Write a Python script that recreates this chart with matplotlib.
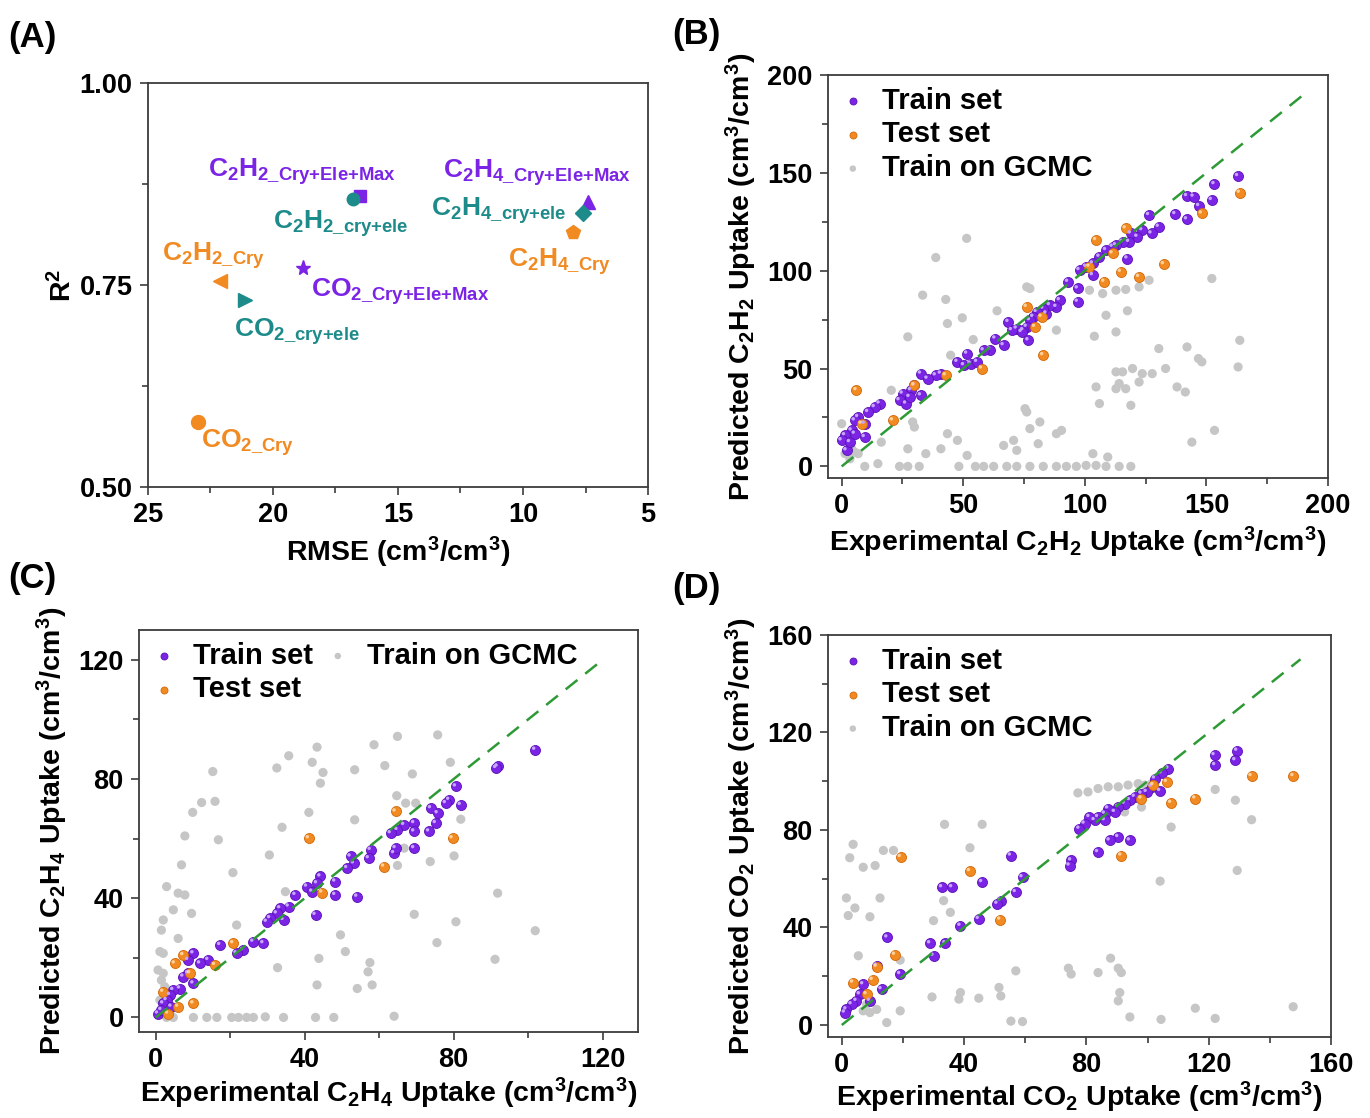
import matplotlib
matplotlib.use("Agg")
import matplotlib.pyplot as plt
from matplotlib.ticker import MultipleLocator
from matplotlib.transforms import ScaledTranslation

plt.rcParams["font.family"] = ["Liberation Sans", "DejaVu Sans"]
plt.rcParams["font.weight"] = "bold"
plt.rcParams["mathtext.fontset"] = "custom"
plt.rcParams["mathtext.rm"] = "Liberation Sans:bold"
plt.rcParams["mathtext.bf"] = "Liberation Sans:bold"
plt.rcParams["mathtext.it"] = "Liberation Sans:bold:italic"
plt.rcParams["mathtext.default"] = "bf"

# ---------------- (A) model comparison: RMSE vs R^2 ----------------
a_names = [r"C$_2$H$_{2\_Cry{+}Ele{+}Max}$", r"C$_2$H$_{2\_cry{+}ele}$",
           r"C$_2$H$_{4\_Cry{+}Ele{+}Max}$", r"C$_2$H$_{4\_cry{+}ele}$",
           r"C$_2$H$_{4\_Cry}$", r"C$_2$H$_{2\_Cry}$",
           r"CO$_{2\_cry{+}ele}$", r"CO$_{2\_Cry{+}Ele{+}Max}$", r"CO$_{2\_Cry}$"]
a_rmse = [16.5, 16.8, 7.4, 7.6, 8.0, 22.1, 21.1, 18.8, 23.0]
a_r2 = [0.860, 0.857, 0.853, 0.839, 0.815, 0.755, 0.731, 0.771, 0.581]

# ---------------- (B) C2H2 uptake ----------------
b_train_exp = [163.0, 153.3, 152.2, 147.0, 142.0, 144.7, 137.2, 142.0, 126.4, 130.4,
               127.4, 123.6, 121.6, 118.9, 118.2, 115.5, 112.8, 111.4, 108.7, 117.5,
               106.0, 103.3, 100.5, 97.8, 103.3, 97.1, 93.1, 97.1, 89.7, 88.3,
               85.6, 84.2, 82.9, 80.2, 78.8, 77.4, 76.1, 74.7, 72.0, 70.0,
               68.6, 74.0, 76.8, 66.6, 63.2, 61.1, 58.4, 51.6, 47.6, 50.3,
               53.0, 55.7, 40.8, 38.7, 32.6, 35.3, 29.9, 28.5, 25.1, 23.8,
               26.5, 27.9, 32.6, 15.6, 13.6, 10.9, 6.8, 5.4, 9.5, 4.1,
               1.4, 0.0, 9.5, 2.0, 3.4, 5.4]
b_train_pred = [148.3, 144.2, 136.1, 133.0, 138.1, 137.8, 128.9, 126.2, 128.4, 122.4,
                119.0, 120.7, 117.3, 119.0, 114.7, 114.7, 113.0, 112.2, 110.5, 106.2,
                107.1, 103.7, 102.0, 100.3, 97.7, 90.9, 94.3, 84.1, 84.9, 81.5,
                82.4, 78.1, 80.6, 78.9, 76.4, 74.7, 71.3, 69.6, 70.4, 69.6,
                73.8, 68.7, 64.4, 61.9, 65.3, 59.7, 59.3, 57.6, 53.4, 51.7,
                52.5, 53.4, 47.4, 46.5, 47.4, 44.8, 41.4, 38.9, 37.2, 33.8,
                32.1, 35.5, 36.3, 32.1, 30.3, 27.8, 25.2, 23.5, 21.8, 18.4,
                15.9, 13.3, 15.0, 8.2, 12.4, 16.7]
b_test_exp = [6.1, 8.2, 21.1, 29.9, 42.8, 57.7, 82.9, 79.5, 82.2, 76.1,
              104.6, 116.8, 101.9, 111.4, 108.0, 114.8, 122.3, 132.5, 148.1, 163.7]
b_test_pred = [38.9, 21.8, 23.5, 41.4, 46.5, 50.0, 56.8, 71.3, 76.4, 81.5,
               115.6, 121.6, 102.0, 108.8, 94.3, 99.4, 96.8, 103.3, 129.2, 139.8]
b_gcmc_exp = [51.4, 38.7, 33.3, 42.8, 27.2, 43.5, 49.6, 63.9, 54.1, 44.8,
              76.1, 77.4, 88.3, 103.9, 108.7, 112.8, 117.5, 101.9, 107.3, 112.8,
              116.8, 122.3, 126.4, 152.2, 163.7, 163.0, 146.7, 148.1, 142.0, 130.4,
              133.2, 127.7, 123.6, 122.3, 119.6, 115.5, 112.8, 114.1, 112.8, 116.8,
              104.6, 106.0, 118.9, 137.9, 141.3, 153.3, 144.0, 20.4, 29.2, 29.9,
              43.5, 47.6, 16.3, 0.0, 4.1, 6.8, 9.5, 14.9, 23.8, 27.2,
              31.9, 27.2, 34.6, 40.8, 51.6, 48.2, 55.0, 58.4, 62.5, 67.9,
              72.0, 77.4, 82.9, 88.3, 92.4, 96.5, 100.5, 104.6, 108.7, 114.1,
              118.9, 103.3, 109.4, 66.6, 70.7, 76.1, 75.4, 77.4, 81.5, 80.8,
              88.3, 90.4, 72.0, 1.4, 5.4, 3.4]
b_gcmc_pred = [116.5, 106.7, 87.5, 85.3, 66.2, 73.0, 75.9, 79.5, 64.8, 56.8,
               91.7, 90.9, 69.6, 66.5, 77.2, 68.7, 79.5, 90.0, 88.3, 90.0,
               90.4, 91.7, 95.1, 96.0, 64.4, 50.8, 55.1, 53.4, 61.0, 60.2,
               50.0, 47.4, 47.4, 43.1, 50.0, 48.3, 48.3, 42.3, 39.7, 39.7,
               40.6, 32.1, 31.2, 40.6, 38.0, 18.4, 12.4, 38.9, 22.7, 20.1,
               16.7, 13.3, 12.4, 21.8, 9.0, 6.5, 0.0, 1.4, 0.0, 0.0,
               0.0, 9.0, 6.5, 9.0, 5.6, 0.0, 0.0, 0.0, 0.0, 0.0,
               0.0, 0.0, 0.0, 0.0, 0.0, 0.0, 0.5, 0.5, 0.0, 0.0,
               0.0, 6.5, 4.8, 10.7, 13.3, 27.8, 29.5, 19.3, 22.7, 11.6,
               16.7, 18.4, 8.2, 6.5, 7.3, 3.9]

# ---------------- (C) C2H4 uptake ----------------
c_train_exp = [101.9, 91.8, 91.4, 80.6, 81.9, 78.8, 77.9, 75.7, 73.9, 75.2,
               73.4, 69.4, 69.4, 66.7, 64.9, 63.1, 64.0, 64.4, 69.4, 57.7,
               57.2, 53.2, 51.4, 52.3, 48.2, 48.2, 44.2, 43.3, 40.6, 42.0,
               37.5, 54.1, 42.9, 35.7, 33.4, 32.5, 34.3, 30.7, 29.8, 26.2,
               23.5, 21.7, 17.3, 28.9, 14.1, 11.9, 10.1, 8.7, 8.7, 7.4,
               10.1, 6.5, 4.7, 3.8, 2.9, 2.0, 0.6, 1.5, 4.2]
c_train_pred = [89.8, 84.2, 83.7, 77.5, 71.3, 73.0, 71.9, 68.5, 70.2, 65.2,
                62.4, 65.2, 62.4, 64.6, 62.9, 61.8, 55.1, 56.8, 56.8, 56.2,
                53.4, 51.7, 50.1, 54.0, 45.6, 41.1, 47.3, 45.0, 43.9, 42.2,
                41.1, 40.5, 34.4, 37.2, 36.6, 34.9, 32.7, 33.3, 32.1, 25.4,
                22.6, 21.5, 24.3, 24.9, 19.3, 18.1, 21.5, 19.3, 14.8, 13.7,
                11.4, 9.7, 9.2, 7.5, 5.8, 4.7, 1.3, 2.5, 3.6]
c_test_exp = [64.4, 41.1, 79.7, 61.3, 44.7, 20.8, 15.9, 5.1, 7.4, 9.2, 2.0, 10.1, 6.0, 3.3]
c_test_pred = [69.1, 60.1, 60.1, 50.6, 41.9, 24.9, 17.6, 18.1, 20.9, 14.8, 8.6, 4.7, 3.6, 1.3]
c_gcmc_exp = [15.3, 12.3, 15.9, 9.9, 7.8, 16.8, 6.9, 2.9, 6.0, 7.8,
              4.7, 2.0, 1.5, 9.6, 6.0, 1.1, 2.0, 0.6, 2.0, 1.5,
              2.4, 1.1, 2.9, 4.7, 10.1, 13.7, 16.4, 20.4, 22.2, 24.4,
              26.2, 29.4, 34.3, 42.9, 47.8, 64.0, 35.7, 32.5, 42.0, 43.3,
              44.9, 44.2, 41.1, 33.9, 30.5, 20.7, 21.7, 34.8, 32.7, 43.8,
              43.3, 49.6, 50.9, 53.4, 53.4, 58.6, 61.5, 64.9, 68.9, 64.7,
              67.1, 69.8, 75.7, 79.1, 81.9, 80.1, 73.7, 64.9, 66.7, 69.4,
              80.6, 75.5, 91.8, 91.1, 101.9, 57.5, 57.0, 54.1, 58.1]
c_gcmc_pred = [82.5, 72.1, 72.5, 68.8, 60.9, 59.6, 51.2, 43.9, 41.7, 41.1,
               36.1, 32.7, 29.3, 34.9, 26.5, 22.1, 21.5, 15.9, 14.8, 12.5,
               10.3, 5.8, 0.0, 0.0, 0.0, 0.0, 0.0, 0.0, 0.0, 0.0,
               0.0, 0.2, 0.0, 0.0, 0.0, 0.4, 87.8, 83.7, 85.6, 90.7,
               82.2, 78.6, 68.8, 63.8, 54.5, 48.6, 31.0, 42.2, 16.7, 19.8,
               10.9, 27.7, 22.1, 83.1, 66.3, 91.5, 84.5, 94.3, 81.7, 74.4,
               71.9, 71.9, 94.8, 85.6, 66.5, 54.2, 52.3, 51.0, 56.8, 34.6,
               32.1, 25.1, 41.7, 19.5, 29.1, 18.4, 15.3, 9.7, 10.9]

# ---------------- (D) CO2 uptake ----------------
d_train_exp = [129.3, 128.7, 121.9, 122.1, 106.8, 104.6, 102.4, 104.1, 101.3, 99.7,
               98.0, 95.8, 94.2, 92.5, 90.4, 89.3, 87.1, 86.0, 83.8, 82.7,
               81.0, 79.4, 77.7, 86.0, 94.2, 90.4, 87.6, 83.8, 75.0, 74.5,
               55.3, 59.1, 45.9, 32.8, 36.1, 56.9, 52.0, 50.9, 44.8, 38.8,
               33.9, 28.9, 30.0, 19.1, 14.9, 13.0, 11.4, 9.2, 7.0, 5.9,
               4.8, 3.2, 1.5, 1.0]
d_train_pred = [112.5, 108.6, 110.7, 106.6, 105.2, 103.2, 101.1, 96.0, 97.7, 95.6,
                94.9, 93.6, 92.2, 90.8, 89.4, 87.4, 88.8, 86.7, 85.3, 84.0,
                85.3, 82.6, 80.5, 84.0, 75.7, 77.1, 75.7, 70.9, 67.5, 65.4,
                69.5, 60.6, 58.6, 56.5, 56.5, 54.5, 51.0, 49.7, 43.5, 40.7,
                33.5, 33.5, 28.4, 20.9, 35.9, 14.7, 24.3, 9.9, 16.7, 12.6,
                9.9, 8.5, 6.4, 5.1]
d_test_exp = [147.7, 134.0, 115.6, 107.7, 106.3, 101.9, 98.0, 91.4, 41.9, 51.8,
              19.3, 17.4, 11.4, 10.1, 3.7, 8.1]
d_test_pred = [102.1, 102.1, 92.9, 91.1, 99.7, 98.4, 92.9, 69.5, 63.1, 43.2,
               68.9, 28.8, 23.9, 18.5, 17.4, 12.6]
d_gcmc_exp = [77.2, 80.5, 83.8, 87.1, 90.4, 93.6, 96.9, 99.1, 101.3, 92.5,
              98.0, 122.1, 128.7, 134.0, 107.7, 129.3, 104.1, 33.6, 45.9, 3.7,
              2.6, 7.0, 10.9, 13.6, 16.9, 41.9, 1.5, 4.3, 2.1, 9.2,
              12.5, 33.3, 35.5, 30.0, 5.4, 19.1, 56.9, 74.1, 75.0, 83.8,
              87.9, 90.4, 91.4, 90.9, 90.4, 29.5, 38.8, 38.3, 44.8, 51.4,
              52.0, 14.7, 55.3, 59.1, 94.2, 104.4, 115.6, 122.1, 147.6, 7.0,
              9.2, 11.4, 8.1, 19.1]
d_gcmc_pred = [95.2, 95.6, 97.0, 97.7, 97.7, 98.4, 99.0, 98.4, 99.0, 87.4,
               89.4, 96.6, 92.2, 84.2, 81.2, 63.4, 59.0, 82.3, 82.3, 74.1,
               68.6, 64.7, 65.4, 71.6, 71.6, 72.7, 52.1, 48.0, 44.9, 44.4,
               52.1, 51.0, 46.2, 42.8, 28.4, 26.6, 22.2, 23.3, 20.9, 21.5,
               27.4, 23.3, 21.5, 13.3, 9.9, 11.5, 13.3, 10.6, 11.0, 15.4,
               11.9, 1.0, 1.6, 1.4, 3.3, 2.3, 6.9, 2.7, 7.5, 5.8,
               5.1, 6.4, 8.5, 5.8]

# ---------------- styling ----------------
PURPLE = "#7b24e6"
PURPLE_EDGE = "#5a12b4"
PURPLE_HI = "#c7a6ff"
ORANGE = "#f28a22"
ORANGE_EDGE = "#d0680a"
ORANGE_HI = "#ffd09a"
GRAY = "#c6c6c6"
TEAL = "#1e8b8b"
GREEN = "#2e9a36"
SPINE = "#3c3c3c"

TICK_FS = 19.5
LABEL_FS = 20.5
LEGEND_FS = 21

fig = plt.figure(figsize=(13.70, 11.18), dpi=100)

axA = fig.add_axes([0.1080, 0.5644, 0.3650, 0.3614])
axB = fig.add_axes([0.6044, 0.5725, 0.3650, 0.3605])
axC = fig.add_axes([0.1015, 0.0769, 0.3642, 0.3596])
axD = fig.add_axes([0.6044, 0.0725, 0.3672, 0.3596])


def style_axes(ax, major_x, minor_x, major_y, minor_y):
    for sp in ax.spines.values():
        sp.set_color(SPINE)
        sp.set_linewidth(1.3)
    ax.xaxis.set_major_locator(MultipleLocator(major_x))
    ax.xaxis.set_minor_locator(MultipleLocator(minor_x))
    ax.yaxis.set_major_locator(MultipleLocator(major_y))
    ax.yaxis.set_minor_locator(MultipleLocator(minor_y))
    ax.tick_params(which="both", direction="out", top=False, right=False,
                   color=SPINE, width=1.2, labelsize=TICK_FS, pad=5)
    ax.tick_params(which="major", length=6)
    ax.tick_params(which="minor", length=4)
    for lab in ax.get_xticklabels() + ax.get_yticklabels():
        lab.set_fontweight("bold")


def ball_scatter(ax, x, y, face, edge, hi, size, label):
    ax.scatter(x, y, s=size, c=face, edgecolors=edge, linewidths=0.6,
               zorder=3, label=label)
    shift = ax.transData + ScaledTranslation(-1.6 / 100, 1.6 / 100, fig.dpi_scale_trans)
    ax.scatter(x, y, s=size * 0.12, c=hi, edgecolors="none", zorder=3.1,
               transform=shift)


def parity_panel(ax, tr_x, tr_y, te_x, te_y, gc_x, gc_y, line_end):
    ax.scatter(gc_x, gc_y, s=44, c=GRAY, edgecolors="none", zorder=2,
               label="Train on GCMC")
    ball_scatter(ax, tr_x, tr_y, PURPLE, PURPLE_EDGE, PURPLE_HI, 52, "Train set")
    ball_scatter(ax, te_x, te_y, ORANGE, ORANGE_EDGE, ORANGE_HI, 52, "Test set")
    ax.plot([0, line_end], [0, line_end], color=GREEN, lw=1.8,
            linestyle=(0, (6, 4)), zorder=4)


# ---- panel A ----
a_markers = ["s", "o", "^", "D", "p", "<", ">", "*", "o"]
a_colors = [PURPLE, TEAL, PURPLE, TEAL, ORANGE, ORANGE, TEAL, PURPLE, ORANGE]
a_msize = [9, 9, 10, 8, 10, 10, 10, 11, 10]
a_text_xy = [(22.59, 0.884), (19.99, 0.820), (13.19, 0.883), (13.69, 0.835),
             (10.59, 0.772), (24.45, 0.780), (21.56, 0.686), (18.49, 0.735),
             (22.89, 0.548)]
for i in range(len(a_names)):
    axA.plot(a_rmse[i], a_r2[i], marker=a_markers[i], color=a_colors[i],
             ms=a_msize[i], mec=a_colors[i], ls="none", zorder=3)
    axA.text(a_text_xy[i][0], a_text_xy[i][1], a_names[i], color=a_colors[i],
             fontsize=19, ha="left", va="baseline", fontweight="bold")
axA.set_xlim(25, 5)
axA.set_ylim(0.5, 1.0)
style_axes(axA, 5, 2.5, 0.25, 0.125)
axA.yaxis.set_major_formatter(plt.FormatStrFormatter("%.2f"))
axA.set_xlabel(r"RMSE (cm$^3$/cm$^3$)", fontsize=LABEL_FS, fontweight="bold", labelpad=5)
axA.set_ylabel(r"R$^2$", fontsize=LABEL_FS, fontweight="bold", labelpad=2)

# ---- panel B ----
parity_panel(axB, b_train_exp, b_train_pred, b_test_exp, b_test_pred,
             b_gcmc_exp, b_gcmc_pred, 190)
axB.set_xlim(-5.6, 200)
axB.set_ylim(-5.9, 200)
style_axes(axB, 50, 25, 50, 25)
axB.set_xlabel(r"Experimental C$_2$H$_2$ Uptake (cm$^3$/cm$^3$)",
               fontsize=LABEL_FS, fontweight="bold", labelpad=4)
axB.set_ylabel(r"Predicted C$_2$H$_2$ Uptake (cm$^3$/cm$^3$)",
               fontsize=LABEL_FS, fontweight="bold", labelpad=6)

# ---- panel C ----
parity_panel(axC, c_train_exp, c_train_pred, c_test_exp, c_test_pred,
             c_gcmc_exp, c_gcmc_pred, 120)
axC.set_xlim(-4.5, 129.5)
axC.set_ylim(-4.9, 130)
style_axes(axC, 40, 20, 40, 20)
axC.set_xlabel(r"Experimental C$_2$H$_4$ Uptake (cm$^3$/cm$^3$)",
               fontsize=LABEL_FS, fontweight="bold", labelpad=2)
axC.set_ylabel(r"Predicted C$_2$H$_4$ Uptake (cm$^3$/cm$^3$)",
               fontsize=LABEL_FS, fontweight="bold", labelpad=6)

# ---- panel D ----
parity_panel(axD, d_train_exp, d_train_pred, d_test_exp, d_test_pred,
             d_gcmc_exp, d_gcmc_pred, 150)
axD.set_xlim(-4.5, 160)
axD.set_ylim(-4.9, 160)
style_axes(axD, 40, 20, 40, 20)
axD.set_xlabel(r"Experimental CO$_2$ Uptake (cm$^3$/cm$^3$)",
               fontsize=LABEL_FS, fontweight="bold", labelpad=1)
axD.set_ylabel(r"Predicted CO$_2$ Uptake (cm$^3$/cm$^3$)",
               fontsize=LABEL_FS, fontweight="bold", labelpad=6)


# ---- legends ----
def add_legend(ax, ncol, colspacing):
    handles, labels = ax.get_legend_handles_labels()
    order = [labels.index("Train set"), labels.index("Test set"),
             labels.index("Train on GCMC")]
    leg = ax.legend([handles[i] for i in order], [labels[i] for i in order],
                    loc="upper left", ncol=ncol, frameon=False,
                    fontsize=LEGEND_FS, markerscale=0.7, handlelength=0.9,
                    handletextpad=0.55, labelspacing=0.2, borderaxespad=0.1,
                    borderpad=0.3, columnspacing=colspacing)
    for t in leg.get_texts():
        t.set_fontweight("bold")


add_legend(axB, 1, 1.0)
add_legend(axC, 2, 0.4)
add_legend(axD, 1, 1.0)

# ---- panel letters ----
for letter, (px, py) in zip(["(A)", "(B)", "(C)", "(D)"],
                            [(8, 47), (672, 44), (8, 588), (672, 598)]):
    fig.text(px / 1370, 1 - py / 1118, letter, fontsize=25, fontweight="bold",
             ha="left", va="baseline")

fig.savefig("out.png", dpi=100)
